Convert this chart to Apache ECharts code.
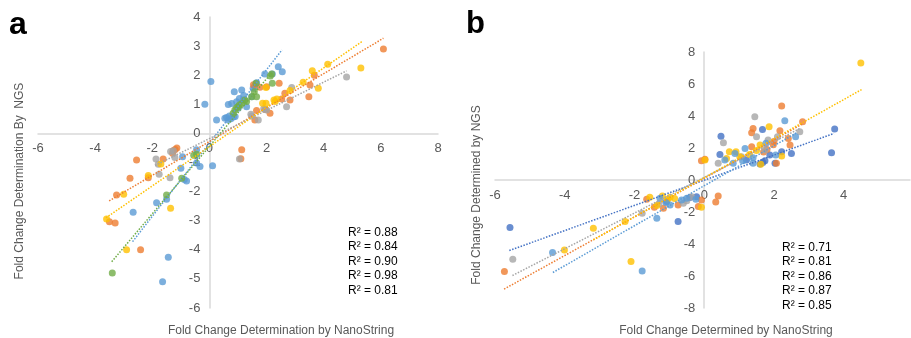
<!DOCTYPE html>
<html>
<head>
<meta charset="utf-8">
<script src="https://cdn.jsdelivr.net/npm/echarts@6/dist/echarts.min.js"></script>
<style>
  html, body { margin: 0; padding: 0; background: #fff; }
  #chart { width: 911px; height: 338px; }
</style>
</head>
<body>
<div id="chart"></div>
<script>
// panel a: NanoString vs NGS fold change, [x, y]
var aBlue = [[0.05,1.78],[-0.16,1.0],[0.25,0.46],[0.54,0.52],[0.66,0.46],[0.6,0.55],[0.75,0.5],[0.84,0.56],
  [0.87,1.43],[1.13,1.49],[0.78,1.03],[0.95,1.09],[1.18,1.15],[1.3,0.92],[1.53,1.55],[1.58,1.62],
  [1.65,1.74],[1.94,2.04],[2.41,2.29],[2.55,2.12],[2.2,2.04],[1.48,1.26],[1.01,0.86],[0.66,0.99],
  [0.7,0.6],[0.9,0.58],[1.05,1.2],[1.2,1.3],
  [-0.94,-0.8],[-1.0,-1.2],[-0.8,-1.64],[-0.88,-1.58],[-0.33,-1.14],[-0.45,-1.02],[-0.45,-0.56],[0.11,-1.11],
  [-1.85,-2.38],[-1.5,-2.26],[-2.67,-2.71],[-1.44,-4.26],[-1.64,-5.1]];
var aOrange = [[6.09,2.9],[3.67,2.0],[3.52,1.66],[3.48,1.26],[2.82,1.15],[2.64,1.38],[2.44,1.72],[2.0,1.6],
  [1.77,1.59],[1.54,1.67],[2.12,0.69],[1.95,0.82],[1.65,0.79],[1.59,0.46],[2.53,1.18],[1.13,-0.56],[1.1,-0.87],
  [-1.2,-0.55],[-1.14,-0.5],[-1.27,-0.6],[-1.62,-0.88],[-2.55,-0.91],[-2.14,-1.52],[-2.78,-1.54],
  [-3.25,-2.12],[-3.5,-3.04],[-3.3,-3.08],[-2.41,-4.0],[-1.29,-0.68]];
var aGray = [[4.8,1.94],[2.88,1.58],[2.7,0.92],[1.71,0.46],[1.48,0.6],[1.45,0.66],[2.0,0.8],[1.9,0.85],
  [1.05,-0.88],[-1.87,-0.88],[-1.79,-1.06],[-1.76,-1.4],[-1.38,-1.52],[-1.21,-0.83],[-1.36,-0.62],[-1.26,-0.6]];
var aYellow = [[5.3,2.25],[4.14,2.38],[3.6,2.15],[3.28,1.76],[3.81,1.55],[2.82,1.47],[1.98,1.58],
  [1.86,1.04],[1.98,1.04],[2.26,1.15],[2.36,1.18],[2.3,1.1],[-1.7,-1.05],[-2.14,-1.45],[-3.0,-2.09],
  [-3.6,-2.94],[-2.9,-4.0],[-1.36,-2.57]];
var aGreen = [[1.63,1.72],[2.18,2.04],[2.13,1.97],[2.2,1.72],[1.57,1.43],[1.48,1.26],[1.65,1.26],
  [1.13,1.03],[1.0,0.92],[0.89,0.8],[0.83,0.69],[1.24,1.15],[1.05,0.98],[0.95,0.88],[1.3,1.1],
  [-0.45,-0.72],[-0.55,-0.75],[-0.97,-1.54],[-1.5,-2.12],[-3.4,-4.8]];
// dotted linear trendlines, two ends each
var aBlueTrend = [[-2.69,-3.72],[2.54,2.87]];
var aOrangeTrend = [[-3.51,-2.32],[6.09,3.27]];
var aGrayTrend = [[-1.9,-1.1],[4.8,2.15]];
var aYellowTrend = [[-3.62,-2.9],[5.33,3.15]];
var aGreenTrend = [[-3.42,-4.41],[2.21,2.12]];
var aR2 = ["0.88", "0.84", "0.90", "0.98", "0.81"];

// panel b
var bDarkBlue = [[3.74,3.18],[3.65,1.7],[0.48,2.74],[0.45,1.6],[1.67,3.16],[2.5,1.66],[2.22,1.77],[2.03,1.04],
  [1.68,1.1],[1.6,1.0],[1.74,1.2],[1.21,1.25],[1.88,1.56],[-5.57,-2.97],[-0.75,-2.6],[-0.22,-1.04],[-1.08,-1.35],[-0.41,-1.1]];
var bOrange = [[2.22,4.62],[2.82,3.64],[1.4,3.22],[1.36,2.95],[2.17,3.08],[2.41,2.6],[2.46,2.18],[2.0,2.4],
  [1.98,2.2],[1.36,2.08],[1.8,1.9],[1.7,1.75],[2.07,1.04],[-0.08,1.2],[0.02,1.29],[-5.73,-5.72],[0.4,-1.0],
  [0.33,-1.37],[-0.08,-1.25],[-0.17,-1.66],[-0.75,-1.56],[-1.17,-1.77],[-1.65,-1.2],[-1.43,-1.7]];
var bGray = [[1.45,3.95],[1.5,2.7],[0.55,2.33],[0.4,1.04],[1.83,2.5],[2.1,2.7],[2.74,3.01],[1.74,1.87],
  [1.07,1.45],[-5.49,-4.95],[-1.78,-2.08],[-0.36,-1.04],[-0.6,-1.45],[-0.5,-1.3],[-1.3,-1.5]];
var bYellow = [[4.49,7.32],[1.86,3.33],[1.6,2.18],[0.72,1.77],[0.91,1.77],[0.64,1.35],[1.02,1.45],[2.22,1.5],
  [1.62,0.98],[0.02,1.25],[1.3,1.6],[1.5,1.85],[-2.1,-5.1],[-3.18,-3.02],[-4.01,-4.37],[-2.27,-2.6],
  [-1.56,-1.08],[-1.2,-1.0],[-0.98,-1.08],[-0.85,-1.15],[-0.08,-1.7],[-1.36,-1.6],[-1.05,-1.2]];
var bLightBlue = [[2.31,3.7],[2.62,2.7],[1.77,2.29],[1.17,1.97],[0.88,1.66],[0.59,1.25],[1.4,1.39],[1.4,1.04],
  [2.05,1.56],[0.83,1.04],[1.1,1.2],[-4.35,-4.53],[-1.78,-5.68],[-1.36,-2.39],[-0.5,-1.14],[-0.98,-1.56],
  [-1.27,-1.14],[-1.1,-1.4],[-0.24,-1.2],[-0.65,-1.25]];
var bDarkBlueTrend = [[-5.59,-4.41],[3.72,2.91]];
var bOrangeTrend = [[-5.74,-6.82],[2.84,3.53]];
var bGrayTrend = [[-5.5,-5.97],[2.74,3.22]];
var bYellowTrend = [[-3.18,-3.74],[4.51,5.65]];
var bLightBlueTrend = [[-4.34,-5.78],[2.65,2.95]];
var bR2 = ["0.71", "0.81", "0.86", "0.87", "0.85"];

var font = "Liberation Sans, Arial, sans-serif";
var axisGray = "#d9d9d9";
var textGray = "#595959";

// the axes cross at zero, so shift each one in from the grid edge
function valueAxis(idx, min, max, step, shift) {
  return {
    type: "value", gridIndex: idx, min: min, max: max, interval: step,
    offset: shift,
    axisLine: { onZero: false, lineStyle: { color: axisGray, width: 1.5 } },
    axisTick: { show: false },
    splitLine: { show: false },
    axisLabel: { color: textGray, fontSize: 13, fontFamily: font, margin: 9 }
  };
}

function dots(name, data, color, idx) {
  return {
    name: name, type: "scatter", xAxisIndex: idx, yAxisIndex: idx,
    data: data, symbolSize: 7, itemStyle: { color: color }, silent: true
  };
}

function trend(data, color, idx) {
  return {
    type: "line", xAxisIndex: idx, yAxisIndex: idx, data: data,
    symbol: "none", silent: true, z: 3,
    lineStyle: { color: color, width: 1.5, type: [1.5, 1.5] }
  };
}

function r2Text(list) {
  return list.map(function (v) { return "R² = " + v; }).join("\n");
}

// panel b runs off the right edge in the original, so its x axis stops short of 6
var bx = valueAxis(1, -6, 5.9, 2, -128);
bx.axisLabel.showMaxLabel = false;

var chart = echarts.init(document.getElementById("chart"));
var option = {
  backgroundColor: "#fff",
  animation: false,
  grid: [
    { left: 38, top: 17, width: 400, height: 291 },
    { left: 495, top: 52, width: 415, height: 256 }
  ],
  xAxis: [valueAxis(0, -6, 8, 2, -174.6), bx],
  yAxis: [valueAxis(0, -6, 4, 1, -171.4), valueAxis(1, -8, 8, 2, -209.2)],
  series: [
    dots("a1", aBlue, "#5b9bd5", 0),
    dots("a2", aOrange, "#ed7d31", 0),
    dots("a3", aGray, "#a5a5a5", 0),
    dots("a4", aYellow, "#ffc000", 0),
    dots("a5", aGreen, "#70ad47", 0),
    trend(aBlueTrend, "#5b9bd5", 0),
    trend(aOrangeTrend, "#ed7d31", 0),
    trend(aGrayTrend, "#a5a5a5", 0),
    trend(aYellowTrend, "#ffc000", 0),
    trend(aGreenTrend, "#70ad47", 0),
    dots("b1", bDarkBlue, "#4472c4", 1),
    dots("b2", bOrange, "#ed7d31", 1),
    dots("b3", bGray, "#a5a5a5", 1),
    dots("b4", bYellow, "#ffc000", 1),
    dots("b5", bLightBlue, "#5b9bd5", 1),
    trend(bDarkBlueTrend, "#4472c4", 1),
    trend(bOrangeTrend, "#ed7d31", 1),
    trend(bGrayTrend, "#a5a5a5", 1),
    trend(bYellowTrend, "#ffc000", 1),
    trend(bLightBlueTrend, "#5b9bd5", 1)
  ],
  graphic: [
    { type: "text", x: 9, y: 25, style: { text: "a", font: "bold 32px " + font, fill: "#000", textVerticalAlign: "middle" } },
    { type: "text", x: 466, y: 24, style: { text: "b", font: "bold 31px " + font, fill: "#000", textVerticalAlign: "middle" } },
    { type: "text", x: 20, y: 181, rotation: Math.PI / 2,
      style: { text: "Fold Change Determination By  NGS", font: "12px " + font, fill: textGray, textAlign: "center", textVerticalAlign: "middle" } },
    { type: "text", x: 281, y: 331,
      style: { text: "Fold Change Determination by NanoString", font: "12px " + font, fill: textGray, textAlign: "center", textVerticalAlign: "middle" } },
    { type: "text", x: 477, y: 195, rotation: Math.PI / 2,
      style: { text: "Fold Change Determined by NGS", font: "12px " + font, fill: textGray, textAlign: "center", textVerticalAlign: "middle" } },
    { type: "text", x: 726, y: 331,
      style: { text: "Fold Change Determined by NanoString", font: "12px " + font, fill: textGray, textAlign: "center", textVerticalAlign: "middle" } },
    { type: "text", x: 348, y: 225,
      style: { text: r2Text(aR2), font: "12px " + font, fill: "#000", lineHeight: 14.6 } },
    { type: "text", x: 782, y: 240,
      style: { text: r2Text(bR2), font: "12px " + font, fill: "#000", lineHeight: 14.6 } }
  ]
};
chart.setOption(option);
</script>
</body>
</html>
